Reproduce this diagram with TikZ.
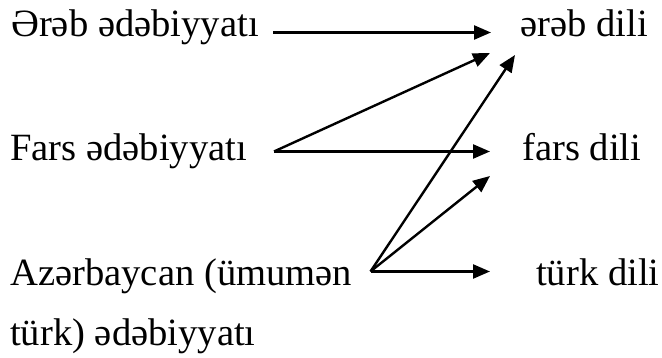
\documentclass[tikz,border=0pt]{standalone}
\usepackage{fontspec}
\setmainfont{Liberation Serif}
\usetikzlibrary{arrows.meta}
\begin{document}
\begin{tikzpicture}[x=1pt,y=-1pt,
  lbl/.style={anchor=base west,inner sep=0pt,font=\fontsize{38.6}{46}\selectfont},
  conn/.style={line width=2.4pt,-{Triangle[length=17pt,width=14pt]}}]
\useasboundingbox (0,0) rectangle (662,358);
% texts
\node[lbl] (ereb)  at (11,36.5)  {Ərəb ədəbiyyatı};
\node[lbl] (erebd) at (520,36.5) {ərəb dili};
\node[lbl] (fars)  at (10,160.5) {Fars ədəbiyyatı};
\node[lbl] (farsd) at (522,160.5) {fars dili};
\node[lbl] (az)    at (10,286)   {Azərbaycan (ümumən};
\node[lbl] (turkd) at (536,286)  {türk dili};
\node[lbl] (az2)   at (10,345)   {türk) ədəbiyyatı};
% connector ends
\coordinate (s1) at (273,32.5);
\coordinate (t1) at (491,32.5);
\coordinate (fF) at (274,151.5);
\coordinate (tF) at (490,151.5);
\coordinate (tFe) at (490,53);
\coordinate (fA) at (370.5,271.5);
\coordinate (tA) at (490,271.5);
\coordinate (tAf) at (490,176);
\coordinate (tAe) at (515,55);
% connectors
\draw[conn] (s1) -- (t1);
\draw[conn] (fF) -- (tF);
\draw[conn] (fF) -- (tFe);
\draw[conn] (fA) -- (tA);
\draw[conn] (fA) -- (tAf);
\draw[conn] (fA) -- (tAe);
\end{tikzpicture}
\end{document}
